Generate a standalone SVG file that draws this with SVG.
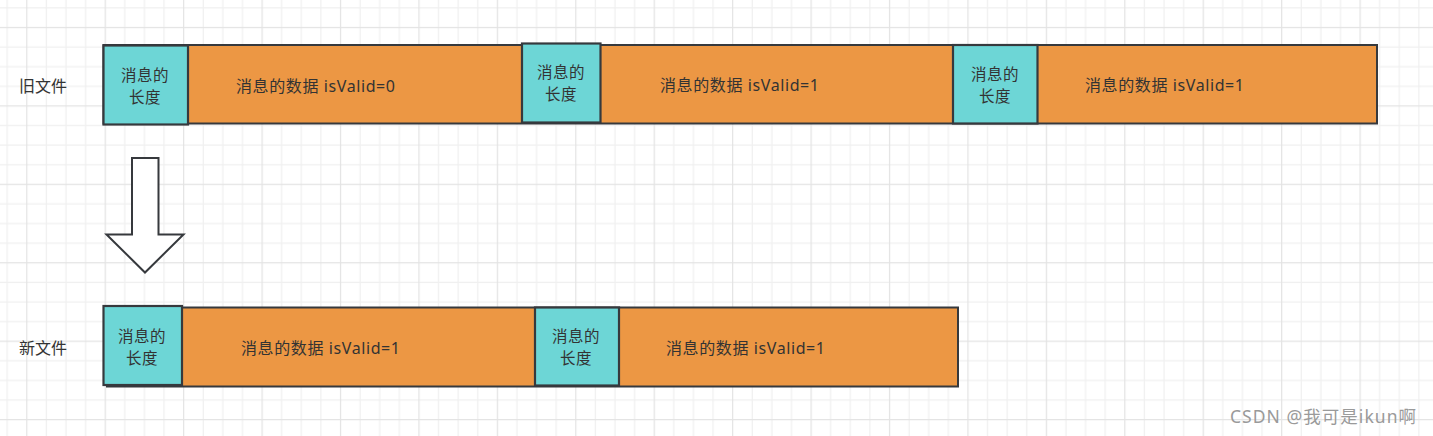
<svg xmlns="http://www.w3.org/2000/svg" width="1433" height="436" viewBox="0 0 1433 436">
<defs>
<pattern id="grid" patternUnits="userSpaceOnUse" x="26.2" y="26.9" width="78.43" height="78.43">
<rect width="78.43" height="78.43" fill="#ffffff"/>
<g fill="#f0f0f0">
<rect x="19.61" y="0" width="1.2" height="78.43"/>
<rect x="39.22" y="0" width="1.2" height="78.43"/>
<rect x="58.82" y="0" width="1.2" height="78.43"/>
<rect x="0" y="19.61" width="78.43" height="1.2"/>
<rect x="0" y="39.22" width="78.43" height="1.2"/>
<rect x="0" y="58.82" width="78.43" height="1.2"/>
</g>
<g fill="#e3e3e3">
<rect x="0" y="0" width="1.2" height="78.43"/>
<rect x="0" y="0" width="78.43" height="1.2"/>
</g>
</pattern>
</defs>
<style>
text{font-family:"Noto Sans","Noto Sans CJK SC",sans-serif;font-size:16px;fill:#333333}
.lbl{text-anchor:middle;font-size:15.5px;letter-spacing:0.5px}
.dat{dominant-baseline:central}
.bar{fill:#ec9744;stroke:#36393d;stroke-width:2}
.len{fill:#6dd6d6;stroke:#36393d;stroke-width:2.2}
.wm{fill:#9a9a9a;font-size:17.5px}
</style>
<rect width="1433" height="436" fill="url(#grid)"/>

<g id="label-old"><text class="dat" x="19" y="86">旧文件</text></g>
<g id="label-new"><text class="dat" x="19" y="348">新文件</text></g>

<g id="old-file">
<rect class="bar" x="103.5" y="45" width="1273.5" height="78.5"/>
</g>
<g id="old-len-1">
<rect class="len" x="103.5" y="45.5" width="84.5" height="79"/>
<text class="lbl" x="145" y="81"><tspan x="145">消息的</tspan><tspan x="145" dy="21.5">长度</tspan></text>
</g>
<g id="old-data-1"><text class="dat" x="236" y="86" textLength="159" lengthAdjust="spacing">消息的数据 isValid=0</text></g>
<g id="old-len-2">
<rect class="len" x="522" y="43.5" width="78.5" height="79"/>
<text class="lbl" x="561" y="78"><tspan x="561">消息的</tspan><tspan x="561" dy="21.5">长度</tspan></text>
</g>
<g id="old-data-2"><text class="dat" x="660" y="85" textLength="159" lengthAdjust="spacing">消息的数据 isValid=1</text></g>
<g id="old-len-3">
<rect class="len" x="953" y="45" width="84.5" height="78.5"/>
<text class="lbl" x="995" y="80"><tspan x="995">消息的</tspan><tspan x="995" dy="21.5">长度</tspan></text>
</g>
<g id="old-data-3"><text class="dat" x="1085" y="85" textLength="159" lengthAdjust="spacing">消息的数据 isValid=1</text></g>

<g id="connectors">
<polygon points="132,158 158.5,158 158.5,234.5 183.5,234.5 145,272.5 106.5,234.5 132,234.5" fill="#ffffff" stroke="#36393d" stroke-width="2" stroke-linejoin="miter"/>
</g>

<g id="new-file">
<rect class="bar" x="107" y="307.5" width="851" height="79"/>
</g>
<g id="new-len-1">
<rect class="len" x="103.5" y="306" width="78.5" height="79"/>
<text class="lbl" x="142" y="342"><tspan x="142">消息的</tspan><tspan x="142" dy="21.5">长度</tspan></text>
</g>
<g id="new-data-1"><text class="dat" x="241" y="348" textLength="159" lengthAdjust="spacing">消息的数据 isValid=1</text></g>
<g id="new-len-2">
<rect class="len" x="535" y="307.5" width="84" height="78"/>
<text class="lbl" x="576" y="342"><tspan x="576">消息的</tspan><tspan x="576" dy="21.5">长度</tspan></text>
</g>
<g id="new-data-2"><text class="dat" x="666" y="348" textLength="159" lengthAdjust="spacing">消息的数据 isValid=1</text></g>

<text class="wm" x="1230" y="423" textLength="186" lengthAdjust="spacing">CSDN @我可是ikun啊</text>
</svg>
